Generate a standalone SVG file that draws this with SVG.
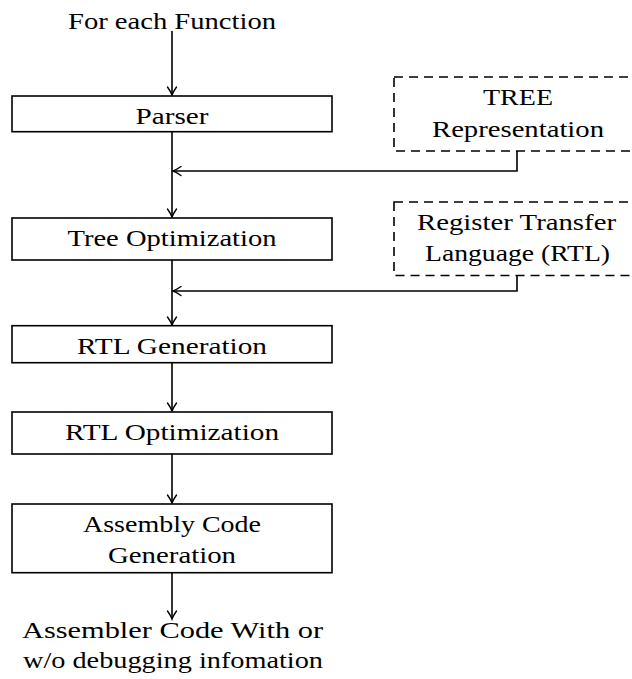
<svg xmlns="http://www.w3.org/2000/svg" width="632" height="679" viewBox="0 0 632 679">
<defs>
  <marker id="arr" viewBox="-10 -6 12 12" refX="0" refY="0" markerWidth="12" markerHeight="12" markerUnits="userSpaceOnUse" orient="auto">
    <path d="M -8,-4.5 Q -3,-1 0,0 Q -3,1 -8,4.5" fill="none" stroke="#000" stroke-width="1.4" stroke-linecap="round"/>
  </marker>
</defs>

<g id="connectors" fill="none" stroke="#000" stroke-width="1.6" marker-end="url(#arr)">
  <path d="M172,31 V95"/>
  <path d="M172,132 V217"/>
  <path d="M517,151 V171 H173"/>
  <path d="M172,260 V325"/>
  <path d="M517,275.5 V291 H173"/>
  <path d="M172,363 V411"/>
  <path d="M172,454 V503"/>
  <path d="M172,573 V619"/>
</g>

<text x="172" y="29" font-family="Liberation Serif, serif" font-size="24" text-anchor="middle" textLength="208" lengthAdjust="spacingAndGlyphs">For each Function</text>

<g id="parser">
  <rect x="12" y="96" width="320" height="35.7" fill="#fff" stroke="#000" stroke-width="1.6"/>
  <text x="172" y="124" font-family="Liberation Serif, serif" font-size="24" text-anchor="middle" textLength="73" lengthAdjust="spacingAndGlyphs">Parser</text>
</g>

<g id="tree-opt">
  <rect x="12" y="218" width="320" height="42" fill="#fff" stroke="#000" stroke-width="1.6"/>
  <text x="172" y="246" font-family="Liberation Serif, serif" font-size="24" text-anchor="middle" textLength="209" lengthAdjust="spacingAndGlyphs">Tree Optimization</text>
</g>

<g id="rtl-gen">
  <rect x="12" y="325.7" width="320" height="37" fill="#fff" stroke="#000" stroke-width="1.6"/>
  <text x="172" y="353.7" font-family="Liberation Serif, serif" font-size="24" text-anchor="middle" textLength="190" lengthAdjust="spacingAndGlyphs">RTL Generation</text>
</g>

<g id="rtl-opt">
  <rect x="12" y="412" width="320" height="42" fill="#fff" stroke="#000" stroke-width="1.6"/>
  <text x="172" y="440" font-family="Liberation Serif, serif" font-size="24" text-anchor="middle" textLength="214" lengthAdjust="spacingAndGlyphs">RTL Optimization</text>
</g>

<g id="asm-gen">
  <rect x="12" y="504" width="320" height="68.7" fill="#fff" stroke="#000" stroke-width="1.6"/>
  <text x="172" y="532" font-family="Liberation Serif, serif" font-size="24" text-anchor="middle" textLength="178" lengthAdjust="spacingAndGlyphs">Assembly Code</text>
  <text x="172" y="563" font-family="Liberation Serif, serif" font-size="24" text-anchor="middle" textLength="128" lengthAdjust="spacingAndGlyphs">Generation</text>
</g>

<g id="tree-repr">
  <rect x="394" y="77" width="246" height="74" fill="none" stroke="#000" stroke-width="1.6" stroke-dasharray="9 6"/>
  <text x="518" y="105" font-family="Liberation Serif, serif" font-size="24" text-anchor="middle" textLength="70" lengthAdjust="spacingAndGlyphs">TREE</text>
  <text x="518" y="136.5" font-family="Liberation Serif, serif" font-size="24" text-anchor="middle" textLength="172" lengthAdjust="spacingAndGlyphs">Representation</text>
</g>

<g id="rtl-lang">
  <rect x="394" y="202" width="246" height="73.5" fill="none" stroke="#000" stroke-width="1.6" stroke-dasharray="9 6"/>
  <text x="516.5" y="230" font-family="Liberation Serif, serif" font-size="24" text-anchor="middle" textLength="199" lengthAdjust="spacingAndGlyphs">Register Transfer</text>
  <text x="517.5" y="261" font-family="Liberation Serif, serif" font-size="24" text-anchor="middle" textLength="185" lengthAdjust="spacingAndGlyphs">Language (RTL)</text>
</g>

<text x="22" y="638" font-family="Liberation Serif, serif" font-size="24" textLength="301" lengthAdjust="spacingAndGlyphs">Assembler Code With or</text>
<text x="23" y="668" font-family="Liberation Serif, serif" font-size="24" textLength="300" lengthAdjust="spacingAndGlyphs">w/o debugging infomation</text>
</svg>
